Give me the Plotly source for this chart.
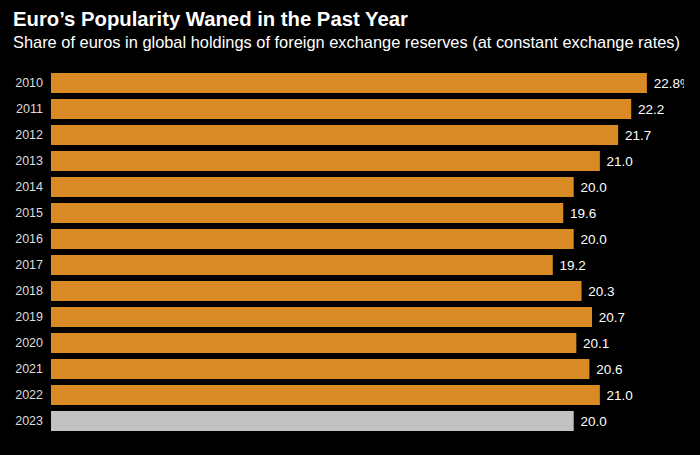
import plotly.graph_objects as go

years = ["2010", "2011", "2012", "2013", "2014", "2015", "2016",
         "2017", "2018", "2019", "2020", "2021", "2022", "2023"]
shares = [22.8, 22.2, 21.7, 21.0, 20.0, 19.6, 20.0,
          19.2, 20.3, 20.7, 20.1, 20.6, 21.0, 20.0]
labels = ["22.8%", "22.2", "21.7", "21.0", "20.0", "19.6", "20.0",
          "19.2", "20.3", "20.7", "20.1", "20.6", "21.0", "20.0"]

ORANGE = "#DA8A25"
GREY = "#C2C2C2"
colors = [ORANGE] * (len(years) - 1) + [GREY]
FONT = "Liberation Sans, Arial, sans-serif"

W, H = 700, 455
plot_left, plot_right = 51, 684
plot_top, plot_bottom = 70, 434

fig = go.Figure(go.Bar(
    x=shares, y=years, orientation="h",
    marker=dict(color=colors, line=dict(width=0)),
    text=labels, texttemplate=" %{text}", textposition="outside",
    textfont=dict(color="#FFFFFF", size=13.5, family=FONT),
    constraintext="none", cliponaxis=True,
    hoverinfo="skip",
))

plot_h = plot_bottom - plot_top
plot_w = plot_right - plot_left
def px_to_paper_x(px):
    return (px - plot_left) / plot_w
def px_to_paper_y(py):
    return (plot_bottom - py) / plot_h

fig.update_layout(
    width=W, height=H,
    paper_bgcolor="#000000", plot_bgcolor="#000000",
    margin=dict(l=plot_left, r=W - plot_right, t=plot_top, b=H - plot_bottom, pad=0),
    bargap=0.24,
    showlegend=False,
    xaxis=dict(range=[0, 24.22], visible=False, fixedrange=True),
    yaxis=dict(autorange="reversed", showgrid=False, zeroline=False, showline=False,
               ticks="", ticklabelstandoff=7, fixedrange=True,
               tickfont=dict(color="#DDDDDD", size=12.5, family=FONT)),
)

fig.add_annotation(
    text="<b>Euro’s Popularity Waned in the Past Year</b>",
    xref="paper", yref="paper", x=px_to_paper_x(11), y=px_to_paper_y(6),
    xanchor="left", yanchor="top", showarrow=False,
    font=dict(color="#FFFFFF", size=20.3, family=FONT),
)
fig.add_annotation(
    text="Share of euros in global holdings of foreign exchange reserves (at constant exchange rates)",
    xref="paper", yref="paper", x=px_to_paper_x(11), y=px_to_paper_y(31),
    xanchor="left", yanchor="top", showarrow=False,
    font=dict(color="#FFFFFF", size=16.4, family=FONT),
)

fig.write_html(
    "out.html",
    config={"displayModeBar": False},
    post_script="document.body.style.margin='0';document.body.style.background='#000';",
)
